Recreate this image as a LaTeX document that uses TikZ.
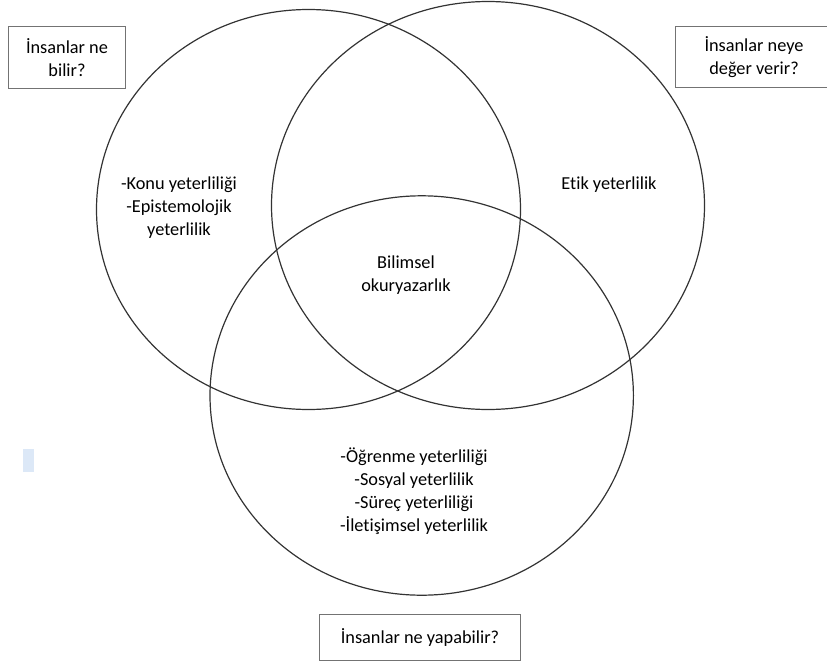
\documentclass[tikz,border=0pt]{standalone}
\usepackage{fontspec}
\setmainfont{Carlito}[Ligatures=NoCommon]
\usetikzlibrary{positioning}
\definecolor{markblue}{RGB}{220,232,247}

\begin{document}
\begin{tikzpicture}[x=1pt, y=-1pt,
    font=\fontsize{18.3}{23}\selectfont,
    ring/.style={draw=black!80, line width=1.2pt},
    qbox/.style={draw=black!55, line width=0.9pt, inner sep=0pt, align=center},
    itemtext/.style={align=center, inner sep=0pt}]

  % Page frame.
  \useasboundingbox (0,0) rectangle (827,664);
  \clip (0,0) rectangle (827,664);

  % The three rings.
  \draw[ring] (308.5,209.5) ellipse [x radius=212, y radius=200];
  \draw[ring] (488,205.5) ellipse [x radius=216.5, y radius=204];
  \draw[ring] (421.7,395.5) ellipse [x radius=211.7, y radius=199.7];

  % Question boxes.
  \node[qbox, minimum width=117.5pt, minimum height=62.5pt] (know)
    at (67,57.5) {İnsanlar ne\\bilir?};
  \node[qbox, minimum width=160pt, minimum height=61.5pt, anchor=west] (value)
    at (674.5,57) {};
  \node[align=center, inner sep=0pt] (valuetext) at (754,57) {İnsanlar neye\\değer verir?};
  \node[qbox, minimum width=201.5pt, minimum height=46pt] (can)
    at (420,637.5) {İnsanlar ne yapabilir?};

  % Ring contents.
  \node[itemtext] (subject) at (179,208)
    {-Konu yeterliliği\\-Epistemolojik\\yeterlilik};
  \node[itemtext] (ethic) at (609,185) {Etik yeterlilik};
  \node[itemtext] (core) at (406,275) {Bilimsel\\okuryazarlık};
  \node[itemtext] (skills) at (414,491.5)
    {-Öğrenme yeterliliği\\-Sosyal yeterlilik\\-Süreç yeterliliği\\-İletişimsel yeterlilik};

  % Stray mark at the left.
  \fill[markblue] (23.3,449) rectangle (34.3,472.3);

\end{tikzpicture}
\end{document}
